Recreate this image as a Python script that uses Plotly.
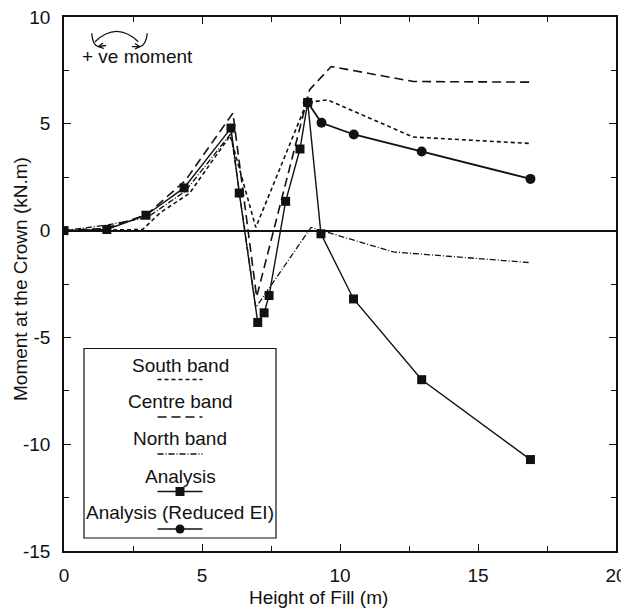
import plotly.graph_objects as go

# ---- data ----
south_x = [0, 2.85, 3.5, 4.55, 6.02, 6.95, 8.8, 9.55, 12.65, 16.9]
south_y = [0, 0.05, 0.85, 1.75, 4.45, 0.15, 6.0, 6.12, 4.38, 4.08]

centre_x = [0, 1.5, 3.0, 4.4, 6.12, 6.98, 8.9, 9.68, 12.66, 16.9]
centre_y = [0, 0.1, 0.75, 2.35, 5.5, -3.1, 6.6, 7.68, 6.98, 6.95]

north_x = [0, 1.5, 3.0, 4.4, 6.05, 6.95, 8.95, 11.93, 16.9]
north_y = [0, 0.25, 0.6, 1.85, 4.55, -3.6, 0.15, -1.0, -1.5]

analysis_x = [0, 1.55, 2.97, 4.35, 6.05, 6.35, 7.02, 7.25, 7.43, 8.03, 8.55, 8.83, 9.31, 10.49, 12.96, 16.9]
analysis_y = [0, 0.05, 0.72, 2.0, 4.8, 1.76, -4.3, -3.85, -3.04, 1.37, 3.82, 6.0, -0.15, -3.2, -6.98, -10.72]

reduced_x = [8.83, 9.33, 10.5, 12.96, 16.9]
reduced_y = [6.0, 5.05, 4.5, 3.7, 2.42]

legend_names = ["South band", "Centre band", "North band", "Analysis", "Analysis (Reduced EI)"]

x_tickvals = [0, 5, 10, 15, 20]
x_ticktext = ["0", "5", "10", "15", "20"]
y_tickvals = [-15, -10, -5, 0, 5, 10]
y_ticktext = ["-15", "-10", "-5", "0", "5", "10"]

FONT = "Liberation Sans, Arial, sans-serif"
BLK = "#111111"

fig = go.Figure()
fig.add_trace(go.Scatter(x=south_x, y=south_y, mode="lines",
                         line=dict(color=BLK, width=1.6, dash="4px,3px")))
fig.add_trace(go.Scatter(x=centre_x, y=centre_y, mode="lines",
                         line=dict(color=BLK, width=1.6, dash="9px,5px")))
fig.add_trace(go.Scatter(x=north_x, y=north_y, mode="lines",
                         line=dict(color=BLK, width=1.3, dash="6px,2px,1px,2px")))
fig.add_trace(go.Scatter(x=reduced_x, y=reduced_y, mode="lines+markers",
                         line=dict(color=BLK, width=1.8),
                         marker=dict(symbol="circle", size=10, color=BLK)))
fig.add_trace(go.Scatter(x=analysis_x, y=analysis_y, mode="lines+markers",
                         line=dict(color=BLK, width=1.4),
                         marker=dict(symbol="square", size=9, color=BLK)))

# pixel -> paper helpers (plot area in the screenshot: x 64..616, y 17..551)
L, R, T, B = 64, 616, 17, 551
def px(xp):
    return (xp - L) / (R - L)
def py(yp):
    return (B - yp) / (B - T)

shapes = []
annotations = []

# legend box
shapes.append(dict(type="rect", xref="paper", yref="paper",
                   x0=px(84), x1=px(276), y0=py(538), y1=py(348.5),
                   line=dict(color=BLK, width=1.2), fillcolor="white", layer="above"))
text_y = [365, 401.5, 439, 476.5, 512.5]
samp_y = [379.5, 417, 454, 491.5, 529]
dashes = ["4px,3px", "9px,5px", "6px,2px,1px,2px", "solid", "solid"]
for name, ty, sy, d in zip(legend_names, text_y, samp_y, dashes):
    annotations.append(dict(xref="paper", yref="paper", x=px(180), y=py(ty),
                            text=name, showarrow=False, xanchor="center", yanchor="middle",
                            font=dict(family=FONT, size=19, color=BLK)))
    shapes.append(dict(type="line", xref="paper", yref="paper",
                       x0=px(157.5), x1=px(202.5), y0=py(sy), y1=py(sy),
                       line=dict(color=BLK, width=1.4, dash=d), layer="above"))
# legend markers
shapes.append(dict(type="rect", xref="paper", yref="paper",
                   x0=px(175.5), x1=px(184.5), y0=py(496), y1=py(487),
                   line=dict(color=BLK, width=0), fillcolor=BLK, layer="above"))
shapes.append(dict(type="circle", xref="paper", yref="paper",
                   x0=px(175.5), x1=px(184.5), y0=py(533.5), y1=py(524.5),
                   line=dict(color=BLK, width=0), fillcolor=BLK, layer="above"))

# "+ ve moment" sign convention arc
def P(a, b):
    return f"{px(a):.5f},{py(b):.5f}"
arc = f"M {P(95,41.7)} Q {P(116.7,21)} {P(138.3,41.7)}"
lhook = f"M {P(91.7,33.3)} Q {P(92.5,45)} {P(98.3,46.7)} L {P(106,45.5)} M {P(98.3,46.7)} L {P(103,43)} M {P(98.3,46.7)} L {P(104,48.5)}"
rhook = f"M {P(147.3,33.3)} Q {P(146,45)} {P(140,46.7)} L {P(132,46.7)} M {P(140,46.7)} L {P(135,43.5)} M {P(140,46.7)} L {P(135,49)}"
for pth in (arc, lhook, rhook):
    shapes.append(dict(type="path", xref="paper", yref="paper", path=pth,
                       line=dict(color=BLK, width=1.3)))
annotations.append(dict(xref="paper", yref="paper", x=px(80), y=py(57),
                        text="+ ve moment", showarrow=False, xanchor="left", yanchor="middle",
                        font=dict(family=FONT, size=19, color=BLK)))

# axis titles placed as annotations for exact positioning
annotations.append(dict(xref="paper", yref="paper", x=px(318), y=py(597),
                        text="Height of Fill (m)", showarrow=False,
                        xanchor="center", yanchor="middle",
                        font=dict(family=FONT, size=19, color=BLK)))
annotations.append(dict(xref="paper", yref="paper", x=px(20), y=py(279),
                        text="Moment at the Crown (kN.m)", showarrow=False, textangle=-90,
                        xanchor="center", yanchor="middle",
                        font=dict(family=FONT, size=19, color=BLK)))

axis_common = dict(showline=True, linecolor=BLK, linewidth=1.5, mirror="ticks",
                   ticks="inside", ticklen=7, tickwidth=1.2, tickcolor=BLK,
                   showgrid=False, automargin=False, ticklabeloverflow="allow",
                   tickfont=dict(family=FONT, size=19, color=BLK),
                   minor=dict(ticks="inside", ticklen=5, tickwidth=1.2, tickcolor=BLK,
                              showgrid=False, dtick=2.5))

# the page body has an 8px margin, so the figure is sized/offset to compensate
fig.update_layout(
    width=621, height=603,
    margin=dict(l=56, r=13, t=9, b=60),
    paper_bgcolor="white", plot_bgcolor="white",
    showlegend=False,
    shapes=shapes, annotations=annotations,
    xaxis=dict(range=[0, 20], tickmode="array", tickvals=x_tickvals, ticktext=x_ticktext,
               zeroline=False, ticklabelstandoff=6, **axis_common),
    yaxis=dict(range=[-15, 10], tickmode="array", tickvals=y_tickvals, ticktext=y_ticktext,
               zeroline=True, zerolinecolor=BLK, zerolinewidth=1.5,
               ticklabelstandoff=8, **axis_common),
)

fig.write_html("out.html")
